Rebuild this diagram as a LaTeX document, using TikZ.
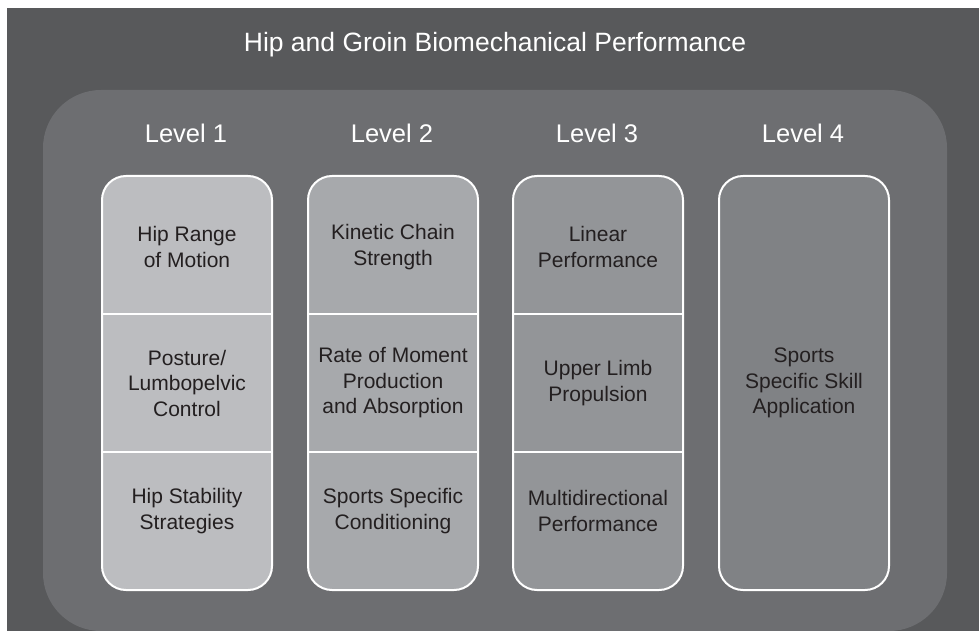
\documentclass[tikz,border=0pt]{standalone}
\usepackage{fontspec}
\setmainfont{Liberation Sans}
\definecolor{outerbg}{HTML}{58595B}
\definecolor{innerbg}{HTML}{6D6E71}
\definecolor{fillA}{HTML}{BCBDC0}
\definecolor{fillB}{HTML}{A7A9AC}
\definecolor{fillC}{HTML}{939598}
\definecolor{fillD}{HTML}{808285}
\definecolor{textdark}{HTML}{231F20}
\begin{document}
\begin{tikzpicture}[x=1pt,y=-1pt,
  colbox/.style={draw=white, line width=2pt, rounded corners=24pt, minimum width=170pt, minimum height=414pt, inner sep=0pt},
  divider/.style={draw=white, line width=2pt},
  lvl/.style={text=white, font=\fontsize{25.5}{30}\selectfont},
  ttl/.style={text=white, font=\fontsize{26.5}{32}\selectfont},
  cell/.style={text=textdark, align=center, font=\fontsize{21}{25.5}\selectfont}]
\useasboundingbox (0,0) rectangle (979,631);
\fill[outerbg] (7,8) rectangle (979,631);
\fill[innerbg, rounded corners=58pt] (43,90) rectangle (947,631);
\node[ttl] (title) at (495,45) {Hip and Groin Biomechanical Performance};
\node[lvl] (lv1) at (186,133) {Level 1};
\node[lvl] (lv2) at (392,133) {Level 2};
\node[lvl] (lv3) at (597,133) {Level 3};
\node[lvl] (lv4) at (803,133) {Level 4};
\node[colbox, fill=fillA] (box1) at (187,383) {};
\node[colbox, fill=fillB] (box2) at (393,383) {};
\node[colbox, fill=fillC] (box3) at (598,383) {};
\node[colbox, fill=fillD] (box4) at (804,383) {};
\foreach \b in {box1,box2,box3}{
  \draw[divider] (\b.west |- 0,314) -- (\b.east |- 0,314);
  \draw[divider] (\b.west |- 0,452) -- (\b.east |- 0,452);
}
\node[cell] (c11) at (187,247) {Hip Range\\of Motion};
\node[cell] (c12) at (187,383) {Posture/\\Lumbopelvic\\Control};
\node[cell] (c13) at (187,511) {Hip Stability\\Strategies};
\node[cell] (c21) at (393,247) {Kinetic Chain\\Strength};
\node[cell] (c22) at (393,383) {Rate of Moment\\Production\\and Absorption};
\node[cell] (c23) at (393,511) {Sports Specific\\Conditioning};
\node[cell] (c31) at (598,247) {Linear\\Performance};
\node[cell] (c32) at (598,383) {Upper Limb\\Propulsion};
\node[cell] (c33) at (598,511) {Multidirectional\\Performance};
\node[cell] (c41) at (804,383) {Sports\\Specific Skill\\Application};
\end{tikzpicture}
\end{document}
